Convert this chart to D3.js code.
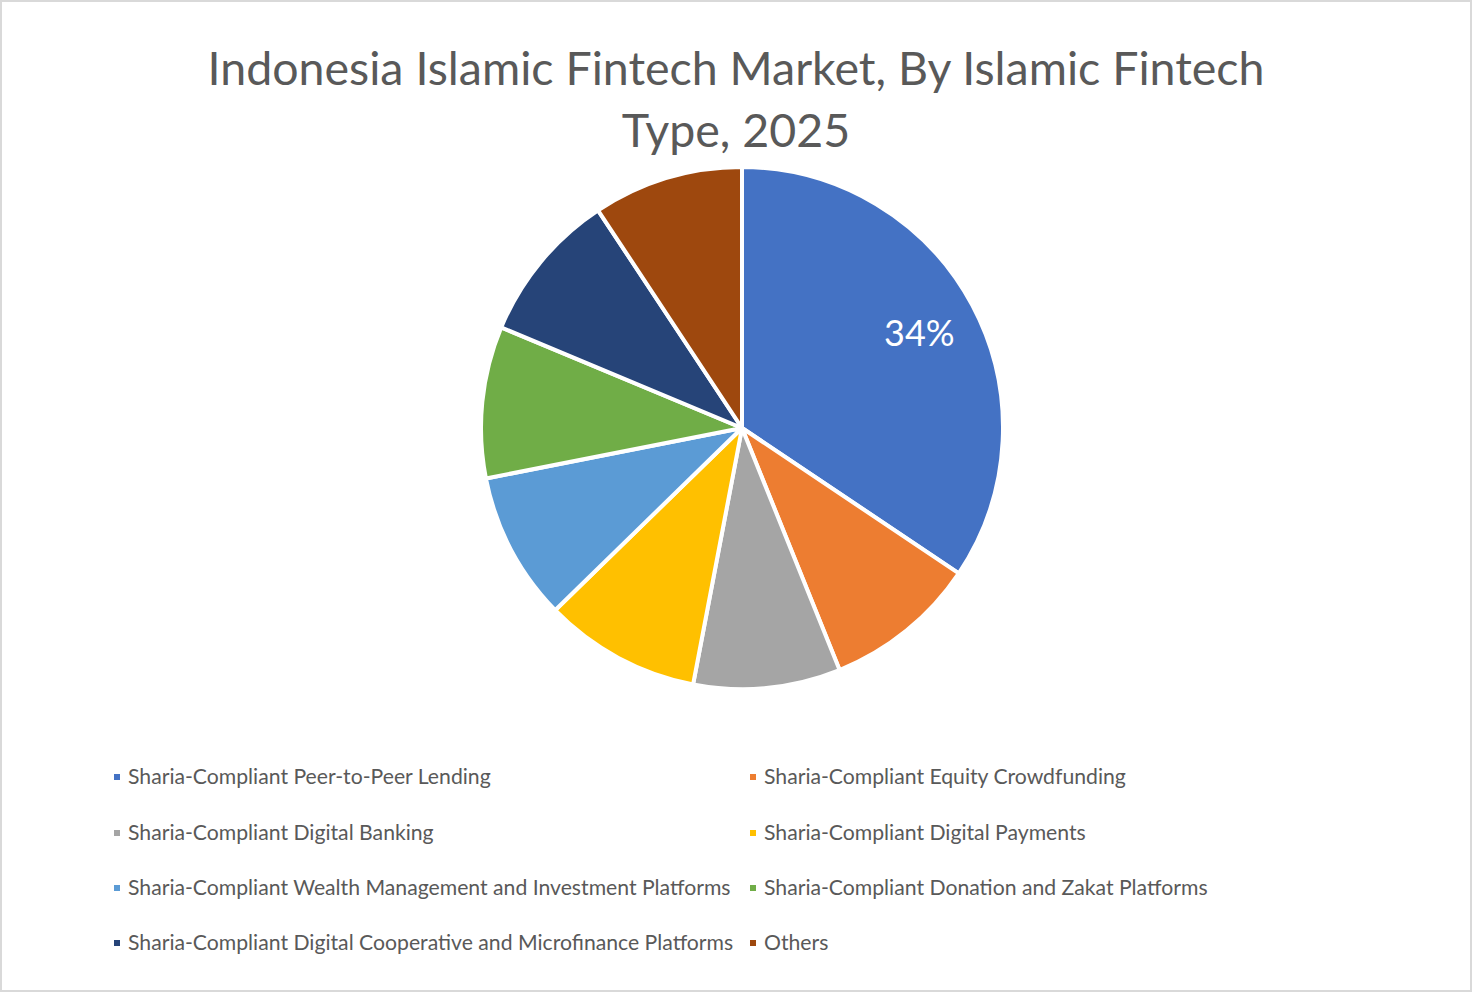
<!DOCTYPE html>
<html>
<head>
<meta charset="utf-8">
<script src="https://cdn.jsdelivr.net/npm/d3@7"></script>
<style>
body{margin:0;background:#fff;}
svg{display:block;font-family:Lato,"Noto Sans",sans-serif;}
</style>
</head>
<body>
<svg></svg>
<script>
// chart data
const categories = [
  "Sharia-Compliant Peer-to-Peer Lending",
  "Sharia-Compliant Equity Crowdfunding",
  "Sharia-Compliant Digital Banking",
  "Sharia-Compliant Digital Payments",
  "Sharia-Compliant Wealth Management and Investment Platforms",
  "Sharia-Compliant Donation and Zakat Platforms",
  "Sharia-Compliant Digital Cooperative and Microfinance Platforms",
  "Others"
];
const shares = [34.4, 9.5, 9.1, 9.7, 9.2, 9.4, 9.4, 9.3];
const shownLabels = ["34%", "", "", "", "", "", "", ""];
const colors = ["#4472c4","#ed7d31","#a5a5a5","#ffc000","#5b9bd5","#70ad47","#264478","#9e480e"];

const w = 1473, h = 993;
const cx = 742, cy = 428, r = 261;

let svg = d3.select("svg").attr("width", w).attr("height", h);

// chart border
svg.append("rect")
  .attr("x", 1).attr("y", 1)
  .attr("width", w - 3).attr("height", h - 3)
  .attr("fill", "#fff")
  .attr("stroke", "#d9d9d9")
  .attr("stroke-width", 2);

// title
let title = svg.append("text")
  .attr("text-anchor", "middle")
  .attr("fill", "#595959")
  .attr("font-size", 46.5);
title.append("tspan").attr("x", 736).attr("y", 85).text("Indonesia Islamic Fintech Market, By Islamic Fintech");
title.append("tspan").attr("x", 736).attr("y", 147).text("Type, 2025");

let pie = d3.pie().sort(null).value(d => d);
let arc = d3.arc().innerRadius(0).outerRadius(r);
let labelArc = d3.arc().innerRadius(r * 0.77).outerRadius(r * 0.77);

let arcs = pie(shares);

let g = svg.append("g").attr("transform", "translate(" + cx + "," + cy + ")");

g.selectAll("path")
  .data(arcs)
  .enter()
  .append("path")
  .attr("d", arc)
  .attr("fill", (d, i) => colors[i])
  .attr("stroke", "#fff")
  .attr("stroke-width", 4)
  .attr("stroke-linejoin", "round");

g.selectAll("text.lbl")
  .data(arcs)
  .enter()
  .append("text")
  .attr("class", "lbl")
  .attr("transform", d => "translate(" + labelArc.centroid(d) + ")")
  .attr("text-anchor", "middle")
  .attr("dy", "0.35em")
  .attr("fill", "#fff")
  .attr("font-size", 36)
  .text((d, i) => shownLabels[i]);

// legend, two columns
const colX = [114, 750];
const rowY = [777, 833, 888, 943];

let legend = svg.append("g");
let items = legend.selectAll("g")
  .data(categories)
  .enter()
  .append("g")
  .attr("transform", (d, i) => "translate(" + colX[i % 2] + "," + rowY[Math.floor(i / 2)] + ")");

items.append("rect")
  .attr("x", 0).attr("y", -3)
  .attr("width", 6).attr("height", 6)
  .attr("fill", (d, i) => colors[i]);

items.append("text")
  .attr("x", 14)
  .attr("dy", "0.35em")
  .attr("fill", "#595959")
  .attr("font-size", 21.2)
  .text(d => d);
</script>
</body>
</html>
